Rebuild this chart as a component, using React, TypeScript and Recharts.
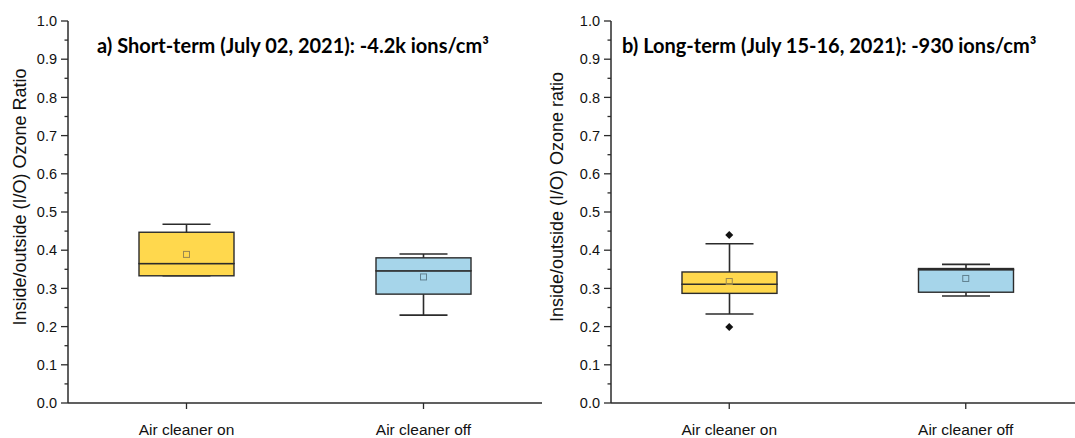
import React from "react";
import {
  ComposedChart,
  Bar,
  Scatter,
  XAxis,
  YAxis,
  Label,
} from "recharts";

// Box plots of indoor/outdoor ozone ratio, two panels side by side.

const categories = ["Air cleaner on", "Air cleaner off"];

// a) Short-term (July 02, 2021)
const shortMin = [0.333, 0.23];
const shortQ1 = [0.333, 0.285];
const shortMedian = [0.365, 0.346];
const shortQ3 = [0.447, 0.38];
const shortMax = [0.468, 0.39];
const shortMean = [0.389, 0.33];
const shortOutHigh: (number | null)[] = [null, null];
const shortOutLow: (number | null)[] = [null, null];

// b) Long-term (July 15-16, 2021)
const longMin = [0.233, 0.28];
const longQ1 = [0.287, 0.29];
const longMedian = [0.311, 0.349];
const longQ3 = [0.343, 0.352];
const longMax = [0.417, 0.363];
const longMean = [0.318, 0.326];
const longOutHigh: (number | null)[] = [0.44, null];
const longOutLow: (number | null)[] = [0.199, null];

const yTicks = [
  0, 0.05, 0.1, 0.15, 0.2, 0.25, 0.3, 0.35, 0.4, 0.45, 0.5, 0.55, 0.6, 0.65,
  0.7, 0.75, 0.8, 0.85, 0.9, 0.95, 1.0,
];

const BOX_FILLS = ["#FFD84D", "#A6D5EA"];
const MEAN_STROKES = ["#9a8850", "#60808f"];
const INK = "#2b2b2b";
const AXIS_FONT = "'Liberation Sans', Arial, sans-serif";
const CAP_HALF = 24;

type Stats = {
  min: number[];
  q1: number[];
  median: number[];
  q3: number[];
  max: number[];
  mean: number[];
  outHigh: (number | null)[];
  outLow: (number | null)[];
};

// stacked segments: base (hidden) -> lower whisker -> lower box -> upper box -> upper whisker
function buildRows(s: Stats) {
  return categories.map((name, i) => ({
    name,
    base: s.min[i],
    lowWhisker: s.q1[i] - s.min[i],
    lowBox: s.median[i] - s.q1[i],
    highBox: s.q3[i] - s.median[i],
    highWhisker: s.max[i] - s.q3[i],
    mean: s.mean[i],
    outHigh: s.outHigh[i],
    outLow: s.outLow[i],
  }));
}

const shortRows = buildRows({
  min: shortMin,
  q1: shortQ1,
  median: shortMedian,
  q3: shortQ3,
  max: shortMax,
  mean: shortMean,
  outHigh: shortOutHigh,
  outLow: shortOutLow,
});

const longRows = buildRows({
  min: longMin,
  q1: longQ1,
  median: longMedian,
  q3: longQ3,
  max: longMax,
  mean: longMean,
  outHigh: longOutHigh,
  outLow: longOutLow,
});

function norm(p: any) {
  const top = Math.min(p.y, p.y + p.height);
  const h = Math.abs(p.height);
  return { top, h, cx: p.x + p.width / 2 };
}

function HiddenShape() {
  return <g />;
}

function BoxShape(p: any) {
  const { top, h } = norm(p);
  return (
    <rect
      x={p.x}
      y={top}
      width={p.width}
      height={h}
      fill={BOX_FILLS[p.index % BOX_FILLS.length]}
      stroke={INK}
      strokeWidth={1.4}
    />
  );
}

function LowWhiskerShape(p: any) {
  const { top, h, cx } = norm(p);
  return (
    <g stroke={INK} strokeWidth={1.6}>
      <line x1={cx} x2={cx} y1={top} y2={top + h} />
      <line x1={cx - CAP_HALF} x2={cx + CAP_HALF} y1={top + h} y2={top + h} />
    </g>
  );
}

function HighWhiskerShape(p: any) {
  const { top, h, cx } = norm(p);
  return (
    <g stroke={INK} strokeWidth={1.6}>
      <line x1={cx} x2={cx} y1={top} y2={top + h} />
      <line x1={cx - CAP_HALF} x2={cx + CAP_HALF} y1={top} y2={top} />
    </g>
  );
}

function MeanShape(p: any) {
  if (p.cx == null || p.cy == null || isNaN(p.cy)) return <g />;
  const i = categories.indexOf(p.payload?.name);
  return (
    <rect
      x={p.cx - 3}
      y={p.cy - 3}
      width={6}
      height={6}
      fill="none"
      stroke={MEAN_STROKES[Math.max(0, i)]}
      strokeWidth={1}
    />
  );
}

function OutlierShape(p: any) {
  if (p.cx == null || p.cy == null || isNaN(p.cy)) return <g />;
  const r = 4;
  return (
    <polygon
      points={`${p.cx},${p.cy - r} ${p.cx + r},${p.cy} ${p.cx},${p.cy + r} ${p.cx - r},${p.cy}`}
      fill="#111"
    />
  );
}

function YTick(p: any) {
  const v = p.payload.value as number;
  const major = Math.round(v * 100) % 10 === 0;
  const axisX = p.x + 10;
  return (
    <g>
      <line
        x1={axisX - (major ? 7 : 3.5)}
        x2={axisX}
        y1={p.y}
        y2={p.y}
        stroke={INK}
        strokeWidth={1.3}
      />
      {major && (
        <text
          x={p.x - 1}
          y={p.y}
          dy="0.36em"
          textAnchor="end"
          fontSize={14.5}
          fontFamily={AXIS_FONT}
          fill="#111"
        >
          {v.toFixed(1)}
        </text>
      )}
    </g>
  );
}

function axisTitle(text: string, cx: number, dyOff: number) {
  return (props: any) => {
    const vb = props.viewBox;
    const x = vb.x + cx;
    const y = vb.y + vb.height / 2 + dyOff;
    return (
      <text
        x={x}
        y={y}
        transform={`rotate(-90, ${x}, ${y})`}
        textAnchor="middle"
        dominantBaseline="central"
        fontSize={18}
        fontFamily={AXIS_FONT}
        fill="#111"
      >
        {text}
      </text>
    );
  };
}

type PanelProps = {
  rows: ReturnType<typeof buildRows>;
  width: number;
  yLabel: string;
  labelX: number;
};

function Panel({ rows, width, yLabel, labelX }: PanelProps) {
  return (
    <ComposedChart
      width={width}
      height={438}
      data={rows}
      margin={{ top: 21, right: 8, bottom: 0, left: 0 }}
      barSize={95}
    >
      <XAxis
        dataKey="name"
        height={35}
        tickSize={6}
        tickMargin={15}
        tickLine={{ stroke: INK, strokeWidth: 1.3 }}
        axisLine={{ stroke: INK, strokeWidth: 1.5 }}
        tick={{ fontSize: 15.5, fontFamily: AXIS_FONT, fill: "#111" }}
        interval={0}
      />
      <XAxis
        xAxisId="top"
        dataKey="name"
        orientation="top"
        height={0}
        tick={false}
        tickLine={false}
        axisLine={{ stroke: INK, strokeWidth: 1.5 }}
      />
      <YAxis
        domain={[0, 1]}
        ticks={yTicks}
        interval={0}
        width={68}
        tickSize={8}
        tickMargin={2}
        tickLine={false}
        tick={<YTick />}
        axisLine={{ stroke: INK, strokeWidth: 1.5 }}
      >
        <Label content={axisTitle(yLabel, labelX, -15)} />
      </YAxis>
      <YAxis
        yAxisId="right"
        orientation="right"
        domain={[0, 1]}
        width={0}
        tick={false}
        tickLine={false}
        axisLine={{ stroke: INK, strokeWidth: 1.5 }}
      />
      <Bar dataKey="base" stackId="box" shape={<HiddenShape />} isAnimationActive={false} />
      <Bar dataKey="lowWhisker" stackId="box" shape={<LowWhiskerShape />} isAnimationActive={false} />
      <Bar dataKey="lowBox" stackId="box" shape={<BoxShape />} isAnimationActive={false} />
      <Bar dataKey="highBox" stackId="box" shape={<BoxShape />} isAnimationActive={false} />
      <Bar dataKey="highWhisker" stackId="box" shape={<HighWhiskerShape />} isAnimationActive={false} />
      <Scatter dataKey="mean" shape={<MeanShape />} isAnimationActive={false} />
      <Scatter dataKey="outHigh" shape={<OutlierShape />} isAnimationActive={false} />
      <Scatter dataKey="outLow" shape={<OutlierShape />} isAnimationActive={false} />
    </ComposedChart>
  );
}

const titleStyle: React.CSSProperties = {
  position: "absolute",
  top: 33,
  fontFamily: "Lato, 'Open Sans', sans-serif",
  fontWeight: 700,
  fontSize: 20,
  color: "#000",
  whiteSpace: "nowrap",
  lineHeight: "24px",
};

export default function App() {
  return (
    <div
      style={{
        position: "absolute",
        left: 0,
        top: 0,
        width: 1075,
        height: 438,
        overflow: "hidden",
        background: "#fff",
      }}
    >
      <div style={{ position: "absolute", left: 0, top: 0 }}>
        <Panel
          rows={shortRows}
          width={550}
          yLabel="Inside/outside (I/O) Ozone Ratio"
          labelX={20}
        />
      </div>
      <div style={{ position: "absolute", left: 543, top: 0 }}>
        <Panel
          rows={longRows}
          width={549}
          yLabel="Inside/outside (I/O) Ozone ratio"
          labelX={14}
        />
      </div>
      <div style={{ ...titleStyle, left: 97 }}>
        a) Short-term (July 02, 2021): -4.2k ions/cm³
      </div>
      <div style={{ ...titleStyle, left: 622 }}>
        b) Long-term (July 15-16, 2021): -930 ions/cm³
      </div>
    </div>
  );
}
